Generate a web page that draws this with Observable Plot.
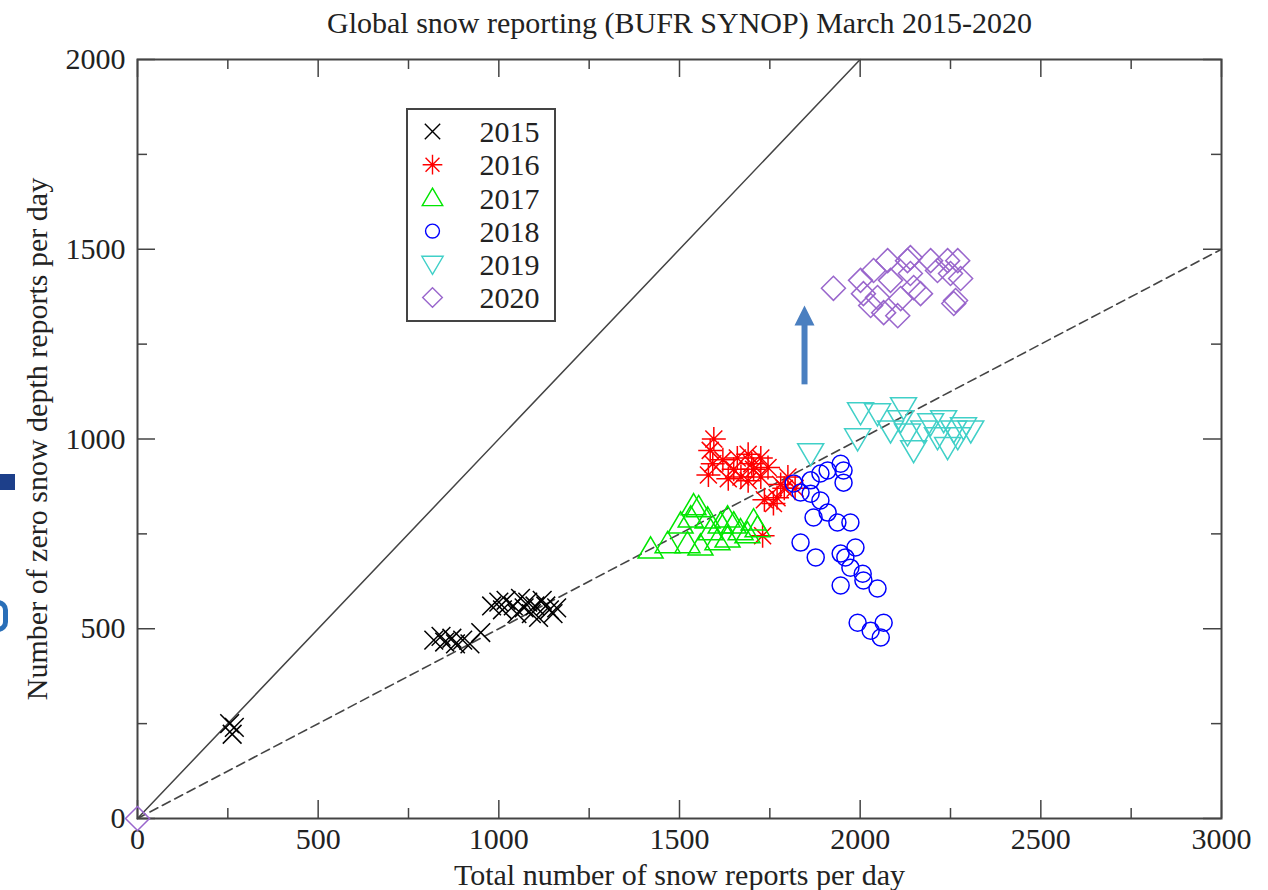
<!DOCTYPE html>
<html><head><meta charset="utf-8">
<script src="https://cdn.jsdelivr.net/npm/d3@7"></script>
<script src="https://cdn.jsdelivr.net/npm/@observablehq/plot@0.6"></script>
<style>
body{margin:0;background:#fff;}
#wrap{position:relative;width:1268px;height:890px;overflow:hidden;background:#fff;}
#legendbox{position:absolute;left:406px;top:108px;width:146px;height:210px;border:2px solid #444;}
#art1{position:absolute;left:0;top:474px;width:15px;height:16px;background:#1d3f8a;}
#art2{position:absolute;left:-6px;top:600px;width:14px;height:32px;border:5px solid #2a6fb8;border-left:none;border-radius:0 10px 10px 0;box-sizing:border-box;}
</style></head><body><div id="wrap"><div id="art1"></div><div id="art2"></div></div>
<script>
const title = "Global snow reporting (BUFR SYNOP) March 2015-2020";
const xLabel = "Total number of snow reports per day";
const yLabel = "Number of zero snow depth reports per day";
const years = [2015, 2016, 2017, 2018, 2019, 2020];
const colors = ["#000000", "#ff0000", "#00e600", "#0000ff", "#40d0c8", "#9966cc"];
const xTicks = [0, 500, 1000, 1500, 2000, 2500, 3000];
const yTicks = [0, 500, 1000, 1500, 2000];
const xMinor = [250, 750, 1250, 1750, 2250, 2750];
const yMinor = [250, 750, 1250, 1750];

const x2015 = [255, 268, 262, 820, 840, 850, 870, 880, 900, 920, 950, 980, 1000, 1010, 1020, 1040, 1060, 1070, 1080, 1090, 1100, 1110, 1120, 1130, 1140, 1150, 1160, 1050];
const y2015 = [250, 240, 222, 470, 480, 465, 475, 460, 470, 460, 490, 560, 570, 550, 575, 560, 580, 555, 570, 540, 560, 530, 575, 560, 550, 540, 555, 540];

const x2016 = [1595, 1585, 1592, 1580, 1620, 1635, 1660, 1670, 1690, 1690, 1705, 1725, 1725, 1745, 1735, 1770, 1790, 1800, 1780, 1820, 1730, 1760, 1650, 1700];
const y2016 = [1000, 970, 935, 905, 945, 895, 950, 900, 960, 890, 920, 950, 900, 925, 840, 845, 870, 900, 880, 870, 745, 830, 920, 935];

const x2017 = [1420, 1467, 1522, 1558, 1539, 1553, 1531, 1578, 1614, 1633, 1650, 1633, 1669, 1705, 1716, 1688, 1605, 1503, 1586];
const y2017 = [711, 725, 725, 719, 825, 820, 793, 790, 777, 793, 777, 740, 759, 785, 767, 751, 733, 777, 759];

const x2018 = [1816, 1910, 1946, 1954, 1954, 1863, 1835, 1863, 1890, 1871, 1910, 1937, 1973, 1835, 1877, 1946, 1959, 1987, 1973, 1946, 2007, 2009, 2048, 1993, 2029, 2065, 2057, 1890];
const y2018 = [883, 917, 935, 917, 885, 891, 859, 856, 838, 793, 806, 780, 780, 727, 688, 698, 688, 714, 661, 614, 645, 627, 606, 516, 495, 516, 477, 909];

const x2019 = [1863, 2001, 1993, 2048, 2120, 2112, 2131, 2148, 2176, 2195, 2231, 2242, 2259, 2286, 2306, 2270, 2214, 2084];
const y2019 = [962, 1070, 1001, 1067, 1083, 1049, 1014, 970, 1022, 1041, 1049, 978, 1022, 1030, 1022, 1004, 1004, 1022];

const x2020 = [0, 1926, 2001, 2009, 2029, 2048, 2076, 2084, 2065, 2104, 2112, 2131, 2139, 2148, 2167, 2195, 2214, 2242, 2250, 2270, 2278, 2259, 2037, 2139, 2264];
const y2020 = [0, 1397, 1418, 1383, 1352, 1373, 1470, 1418, 1333, 1325, 1370, 1470, 1436, 1399, 1383, 1470, 1444, 1470, 1436, 1470, 1423, 1357, 1444, 1478, 1365];

const refSolidX = [0, 2000], refSolidY = [0, 2000];
const refDashX = [0, 3000], refDashY = [0, 1500];
const arrowX = [1846], arrowY1 = [1144], arrowY2 = [1352];

const seriesX = [x2015, x2016, x2017, x2018, x2019, x2020];
const seriesY = [y2015, y2016, y2017, y2018, y2019, y2020];

// custom symbols (r derived from area)
const R = s => Math.sqrt(s / Math.PI);
const symTimes = {draw(c, s) {const r = R(s) * 0.72; c.moveTo(-r, -r); c.lineTo(r, r); c.moveTo(-r, r); c.lineTo(r, -r);}};
const symAst = {draw(c, s) {const r = R(s); const d = r * 0.707; c.moveTo(-r, 0); c.lineTo(r, 0); c.moveTo(0, -r); c.lineTo(0, r); c.moveTo(-d, -d); c.lineTo(d, d); c.moveTo(-d, d); c.lineTo(d, -d);}};
const symTriUp = {draw(c, s) {const r = R(s); c.moveTo(0, -r * 0.95); c.lineTo(r, r * 0.75); c.lineTo(-r, r * 0.75); c.closePath();}};
const symTriDn = {draw(c, s) {const r = R(s); c.moveTo(0, r * 0.95); c.lineTo(r, -r * 0.75); c.lineTo(-r, -r * 0.75); c.closePath();}};
const symCircle = {draw(c, s) {const r = R(s) * 0.85; c.moveTo(r, 0); c.arc(0, 0, r, 0, 2 * Math.PI);}};
const symDiamond = {draw(c, s) {const r = R(s); c.moveTo(0, -r); c.lineTo(r, 0); c.lineTo(0, r); c.lineTo(-r, 0); c.closePath();}};
const symbols = [symTimes, symAst, symTriUp, symCircle, symTriDn, symDiamond];
const sizes = [13, 12, 12.5, 10, 13, 12];
const headSym = {draw(c, s) {c.moveTo(0, 0); c.lineTo(10, 20); c.lineTo(-10, 20); c.closePath();}};

const W = 1268, H = 890, mL = 137, mR = 47, mT = 59, mB = 72;
const iw = W - mL - mR, ih = H - mT - mB;
const axisColor = "#444";
const font = "'Liberation Serif', 'Times New Roman', serif";
const FS = 30;

const marks = [];
marks.push(Plot.frame({stroke: axisColor, strokeWidth: 2}));
// inward ticks on all four sides
marks.push(Plot.tickX(xTicks, {x: d => d, insetTop: ih - 18, stroke: axisColor, strokeWidth: 1.5}));
marks.push(Plot.tickX(xTicks, {x: d => d, insetBottom: ih - 18, stroke: axisColor, strokeWidth: 1.5}));
marks.push(Plot.tickX(xMinor, {x: d => d, insetTop: ih - 10, stroke: axisColor, strokeWidth: 1.5}));
marks.push(Plot.tickX(xMinor, {x: d => d, insetBottom: ih - 10, stroke: axisColor, strokeWidth: 1.5}));
marks.push(Plot.tickY(yTicks, {y: d => d, insetRight: iw - 18, stroke: axisColor, strokeWidth: 1.5}));
marks.push(Plot.tickY(yTicks, {y: d => d, insetLeft: iw - 18, stroke: axisColor, strokeWidth: 1.5}));
marks.push(Plot.tickY(yMinor, {y: d => d, insetRight: iw - 10, stroke: axisColor, strokeWidth: 1.5}));
marks.push(Plot.tickY(yMinor, {y: d => d, insetLeft: iw - 10, stroke: axisColor, strokeWidth: 1.5}));

marks.push(Plot.axisX(xTicks, {tickSize: 0, tickPadding: 9, tickFormat: d => String(d), fontSize: FS, fill: "#222", label: xLabel, labelAnchor: "center", labelArrow: "none", labelOffset: 66}));
marks.push(Plot.axisY(yTicks, {tickSize: 0, tickPadding: 12, tickFormat: d => String(d), fontSize: FS, fill: "#222", label: yLabel, labelAnchor: "center", labelArrow: "none", labelOffset: 112}));

// reference lines
marks.push(Plot.line(refSolidX.map((x, i) => ({x, y: refSolidY[i]})), {x: "x", y: "y", stroke: "#444", strokeWidth: 1.5}));
marks.push(Plot.line(refDashX.map((x, i) => ({x, y: refDashY[i]})), {x: "x", y: "y", stroke: "#444", strokeWidth: 1.6, strokeDasharray: "9,5"}));

// data series
years.forEach((yr, k) => {
  const data = seriesX[k].map((x, i) => ({x, y: seriesY[k][i]}));
  marks.push(Plot.dot(data, {x: "x", y: "y", symbol: symbols[k], r: sizes[k], stroke: colors[k], fill: "none", strokeWidth: 1.5}));
});

// arrow
const arrowData = arrowX.map((x, i) => ({x, y1: arrowY1[i], y2: arrowY2[i]}));
marks.push(Plot.link(arrowData, {x1: "x", x2: "x", y1: "y1", y2: d => d.y2 - 30, stroke: "#4a7fc0", strokeWidth: 6}));
marks.push(Plot.dot(arrowData, {x: "x", y: "y2", symbol: headSym, r: 5, fill: "#4a7fc0", stroke: "none"}));

// legend (inside plot frame)
years.forEach((yr, k) => {
  marks.push(Plot.dot([yr], {frameAnchor: "top-left", dx: 432 - mL, dy: 131 - mT + k * 33.2, symbol: symbols[k], r: sizes[k] * 0.82, stroke: colors[k], fill: "none", strokeWidth: 1.4}));
  marks.push(Plot.text([String(yr)], {text: d => d, frameAnchor: "top-left", lineAnchor: "middle", dx: 479 - mL, dy: 132 - mT + k * 33.2, textAnchor: "start", fontSize: FS, fill: "#222"}));
});

// title
marks.push(Plot.text([title], {text: d => d, frameAnchor: "top", lineAnchor: "middle", dy: -36, fontSize: 30, fill: "#222"}));

const chart = Plot.plot({
  width: W, height: H,
  marginLeft: mL, marginRight: mR, marginTop: mT, marginBottom: mB,
  x: {domain: [0, 3000], axis: null},
  y: {domain: [0, 2000], axis: null},
  style: {fontFamily: font, background: "transparent", overflow: "visible"},
  marks
});
chart.style.position = "absolute";
chart.style.left = "0";
chart.style.top = "0";
const wrap = document.getElementById("wrap");
wrap.insertBefore(chart, wrap.firstChild);
const lb = document.createElement("div");
lb.id = "legendbox";
wrap.appendChild(lb);
</script>
</body></html>
